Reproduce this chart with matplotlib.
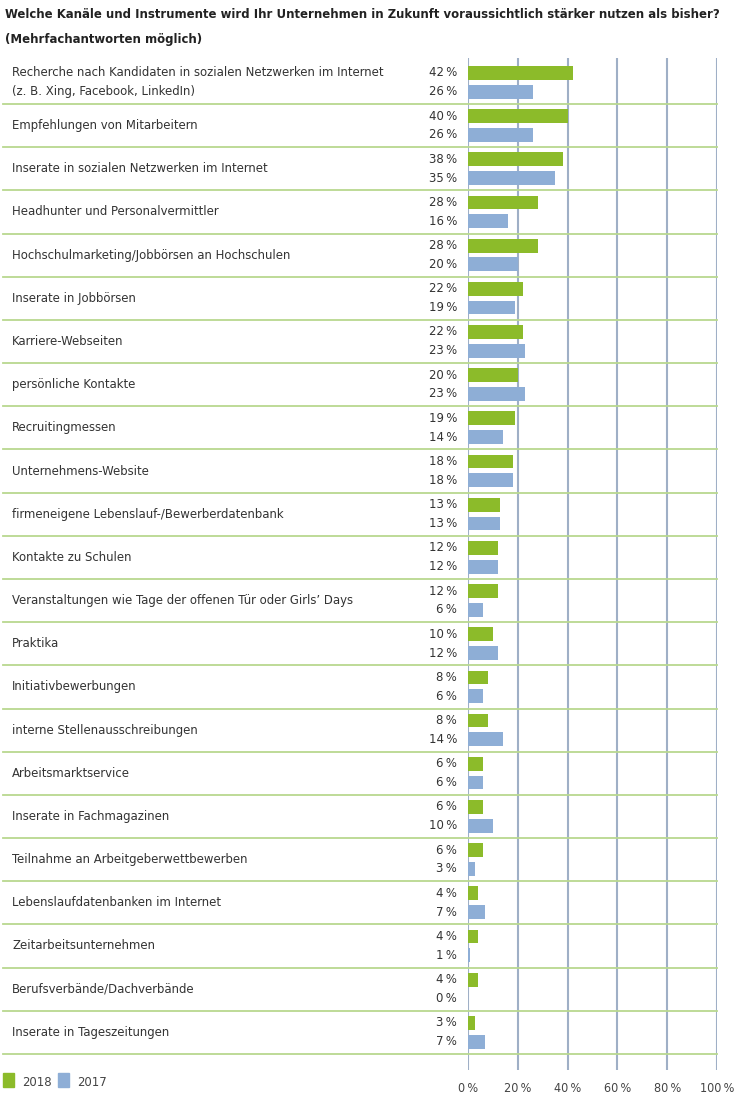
import matplotlib
matplotlib.use("Agg")
import matplotlib.pyplot as plt
from matplotlib.transforms import blended_transform_factory
from matplotlib.patches import Rectangle

plt.rcParams['font.family'] = ['DejaVu Sans']
plt.rcParams['font.stretch'] = 'condensed'

title_lines = ["Welche Kanäle und Instrumente wird Ihr Unternehmen in Zukunft voraussichtlich stärker nutzen als bisher?",
               "(Mehrfachantworten möglich)"]

categories = [
    "Recherche nach Kandidaten in sozialen Netzwerken im Internet\n(z. B. Xing, Facebook, LinkedIn)",
    "Empfehlungen von Mitarbeitern",
    "Inserate in sozialen Netzwerken im Internet",
    "Headhunter und Personalvermittler",
    "Hochschulmarketing/Jobbörsen an Hochschulen",
    "Inserate in Jobbörsen",
    "Karriere-Webseiten",
    "persönliche Kontakte",
    "Recruitingmessen",
    "Unternehmens-Website",
    "firmeneigene Lebenslauf-/Bewerberdatenbank",
    "Kontakte zu Schulen",
    "Veranstaltungen wie Tage der offenen Tür oder Girls’ Days",
    "Praktika",
    "Initiativbewerbungen",
    "interne Stellenausschreibungen",
    "Arbeitsmarktservice",
    "Inserate in Fachmagazinen",
    "Teilnahme an Arbeitgeberwettbewerben",
    "Lebenslaufdatenbanken im Internet",
    "Zeitarbeitsunternehmen",
    "Berufsverbände/Dachverbände",
    "Inserate in Tageszeitungen",
]
values_2018 = [42, 40, 38, 28, 28, 22, 22, 20, 19, 18, 13, 12, 12, 10, 8, 8, 6, 6, 6, 4, 4, 4, 3]
values_2017 = [26, 26, 35, 16, 20, 19, 23, 23, 14, 18, 13, 12, 6, 12, 6, 14, 6, 10, 3, 7, 1, 0, 7]
series_labels = ["2018", "2017"]
xticks = [0, 20, 40, 60, 80, 100]

GREEN = "#8cbb2a"
BLUE = "#8eaed6"
GRID = "#9fafc6"
SEP = "#b9d88f"
TXT = "#333333"

W, H = 738, 1099
fig = plt.figure(figsize=(W / 100, H / 100), dpi=100)

# axes placement in pixels
x0, x1 = 468, 717
y_top, y_bot = 58, 1070
ax = fig.add_axes([x0 / W, 1 - y_bot / H, (x1 - x0) / W, (y_bot - y_top) / H])

n = len(categories)
g_top, g_h = 60.8, 43.18
ylim_top = (y_top - g_top) / g_h
ylim_bot = (y_bot - g_top) / g_h
ax.set_xlim(0, 100)
ax.set_ylim(ylim_bot, ylim_top)
for s in ax.spines.values():
    s.set_visible(False)
ax.set_xticks([])
ax.set_yticks([])

# vertical gridlines
for t in xticks:
    ax.axvline(t, color=GRID, lw=1.5, zorder=1)

# horizontal separators
sep_x0 = (3 - x0) / (x1 - x0)
for i in range(1, n + 1):
    ax.axhline(i, xmin=sep_x0, xmax=1.0, color=SEP, lw=1.3, clip_on=False, zorder=2)

pos_g = [i + 0.28 for i in range(n)]
pos_b = [i + 0.715 for i in range(n)]
ax.barh(pos_g, values_2018, height=0.32, color=GREEN, zorder=3)
ax.barh(pos_b, values_2017, height=0.32, color=BLUE, zorder=3)

tr = blended_transform_factory(fig.transFigure, ax.transData)
fs = 9.4
for i, cat in enumerate(categories):
    if "\n" in cat:
        l1, l2 = cat.split("\n")
        ax.text(12 / W, pos_g[i], l1, transform=tr, ha="left", va="center", fontsize=fs, color=TXT)
        ax.text(12 / W, pos_b[i], l2, transform=tr, ha="left", va="center", fontsize=fs, color=TXT)
    else:
        ax.text(12 / W, i + 0.5, cat, transform=tr, ha="left", va="center", fontsize=fs, color=TXT)
    ax.text(457 / W, pos_g[i], f"{values_2018[i]}\u2009%", transform=tr, ha="right", va="center", fontsize=fs, color=TXT)
    ax.text(457 / W, pos_b[i], f"{values_2017[i]}\u2009%", transform=tr, ha="right", va="center", fontsize=fs, color=TXT)

# x tick labels
trx = blended_transform_factory(ax.transData, fig.transFigure)
for t in xticks:
    ax.text(t, 1 - 1089 / H, f"{t}\u2009%", transform=trx, ha="center", va="center", fontsize=9, color="#444444")

# title
for line, yc in zip(title_lines, [14, 40]):
    fig.text(5 / W, 1 - yc / H, line, ha="left", va="center", fontsize=9.4,
             fontweight="bold", color="#222222")

# legend
for k, (lab, col, lx) in enumerate(zip(series_labels, [GREEN, BLUE], [3, 58])):
    fig.patches.append(Rectangle((lx / W, 1 - 1087 / H), 11 / W, 14 / H, transform=fig.transFigure, color=col))
    fig.text((lx + 19) / W, 1 - 1083 / H, lab, ha="left", va="center", fontsize=9.4, color="#444444")

fig.savefig("out.png", dpi=100)
